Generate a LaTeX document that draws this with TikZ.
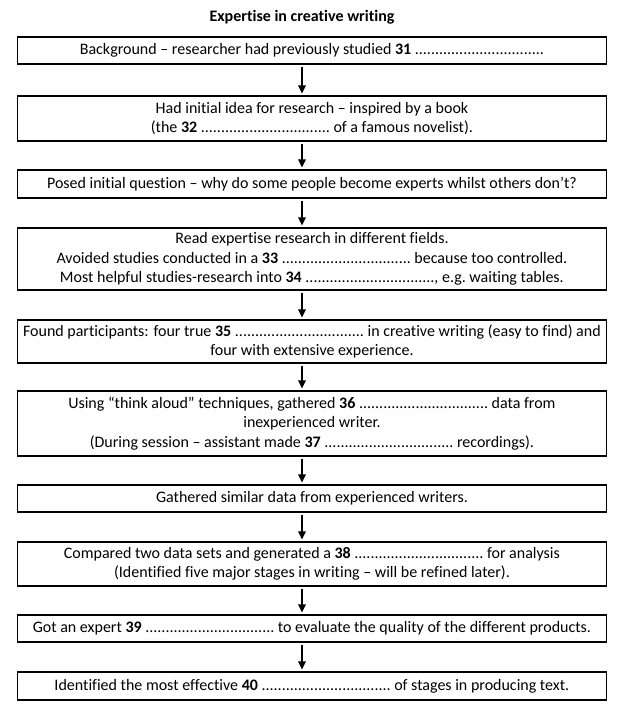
\documentclass[tikz,border=0pt]{standalone}
\usepackage{fontspec}
\setmainfont{Carlito}[Ligatures=NoCommon]
\usetikzlibrary{arrows.meta}
\newcommand\fillgap{................................}
\begin{document}
\begin{tikzpicture}[x=0.75pt,y=-0.75pt,
  box/.style={draw=black, line width=0.9pt, minimum width=441.75pt, inner sep=0pt,
    align=center, font=\fontsize{12}{14.6}\selectfont},
  arr/.style={-{Triangle[length=6pt,width=5.5pt]}, line width=1.3pt, shorten <=2pt, shorten >=1.5pt},
  ttl/.style={font=\fontsize{12}{14.6}\selectfont\bfseries}]
\useasboundingbox (0,0) rectangle (631,725);
\node[ttl] (t) at (302,17) {Expertise in creative writing};
\coordinate (ax) at (302,0);
\node[box, minimum height=20.25pt] (b1) at (312,50.5) {Background – researcher had previously studied \textbf{31} \fillgap};
\node[box, minimum height=33.75pt] (b2) at (312,118.5) {Had initial idea for research – inspired by a book\\(the \textbf{32} \fillgap\ of a famous novelist).};
\node[box, minimum height=21pt] (b3) at (312,184) {Posed initial question – why do some people become experts whilst others don’t?};
\node[box, minimum height=46.5pt] (b4) at (312,259) {Read expertise research in different fields.\\Avoided studies conducted in a \textbf{33} \fillgap\ because too controlled.\\Most helpful studies-research into \textbf{34} \fillgap, e.g.\ waiting tables.};
\node[box, minimum height=32.25pt] (b5) at (312,341.5) {Found participants: four true \textbf{35} \fillgap\ in creative writing (easy to find) and\\four with extensive experience.};
\node[box, minimum height=48.75pt] (b6) at (312,423.5) {Using “think aloud” techniques, gathered \textbf{36} \fillgap\ data from\\inexperienced writer.\\(During session – assistant made \textbf{37} \fillgap\ recordings).};
\node[box, minimum height=20.25pt] (b7) at (312,498.5) {Gathered similar data from experienced writers.};
\node[box, minimum height=33pt] (b8) at (312,564) {Compared two data sets and generated a \textbf{38} \fillgap\ for analysis\\(Identified five major stages in writing – will be refined later).};
\node[box, minimum height=20.25pt] (b9) at (312,628.5) {Got an expert \textbf{39} \fillgap\ to evaluate the quality of the different products.};
\node[box, minimum height=21pt] (b10) at (312,686) {Identified the most effective \textbf{40} \fillgap\ of stages in producing text.};
\foreach \a/\b in {b1/b2,b2/b3,b3/b4,b4/b5,b5/b6,b6/b7,b7/b8,b8/b9,b9/b10}
  \draw[arr] (\a.south -| ax) -- (\b.north -| ax);
\end{tikzpicture}
\end{document}
